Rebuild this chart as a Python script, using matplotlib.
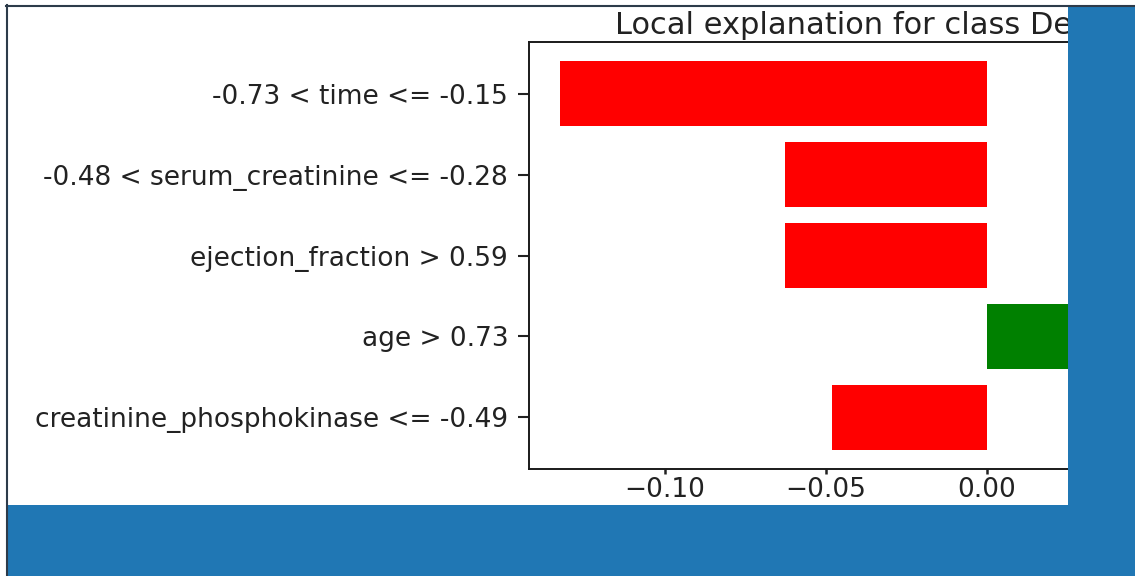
import matplotlib
matplotlib.use("Agg")
import matplotlib.pyplot as plt
from matplotlib.patches import Rectangle
from matplotlib.lines import Line2D

# Feature conditions, listed from most to least important (top to bottom)
features = [
    "-0.73 < time <= -0.15",
    "-0.48 < serum_creatinine <= -0.28",
    "ejection_fraction > 0.59",
    "age > 0.73",
    "creatinine_phosphokinase <= -0.49",
]
weights = [-0.1326, -0.0627, -0.0627, 0.0590, -0.0481]
xticks = [-0.10, -0.05, 0.00]
xtick_labels = ["\u22120.10", "\u22120.05", "0.00"]
title = "Local explanation for class Death"

W, H = 1135, 576
fig = plt.figure(figsize=(W / 100, H / 100), dpi=100, facecolor="white")

def px_rect(x0, y0, x1, y1, **kw):
    """Rectangle given in pixel coordinates measured from the top-left corner."""
    return Rectangle((x0 / W, 1 - y1 / H), (x1 - x0) / W, (y1 - y0) / H,
                     transform=fig.transFigure, **kw)

blue = "#2077b4"
fig.patches.append(px_rect(6, 5, W + 2, H + 2, facecolor=blue, edgecolor="none", zorder=0.1))
fig.patches.append(px_rect(7, 7, 1068, 505, facecolor="white", edgecolor="none", zorder=0.2))

# Axes placement (pixels)
left_px, right_px, top_px, bottom_px = 529, 1208, 42, 469
ax = fig.add_axes([left_px / W, 1 - bottom_px / H,
                   (right_px - left_px) / W, (bottom_px - top_px) / H])
ax.set_zorder(1)
ax.set_facecolor("white")

vals = weights[::-1]
names = features[::-1]
pos = list(range(len(vals)))
colors = ["green" if v > 0 else "red" for v in vals]
ax.barh(pos, vals, align="center", color=colors, height=0.8)
ax.set_yticks(pos)
ax.set_yticklabels(names)
ax.set_xticks(xticks)
ax.set_xticklabels(xtick_labels)
ax.set_title(title, fontsize=22, color="#222222", pad=6)

ax.tick_params(axis="y", labelsize=19, length=8, width=1.5, pad=7, colors="#222222")
ax.tick_params(axis="x", labelsize=19, length=3.6, width=1.8, pad=2, colors="#222222")
for s in ax.spines.values():
    s.set_linewidth(1.4)
    s.set_color("#1a1a1a")

# Frame cover on the right and bottom
fig.patches.append(px_rect(1068, 5, W + 2, H + 2, facecolor=blue, edgecolor="none", zorder=5))
fig.patches.append(px_rect(6, 505, W + 2, H + 2, facecolor=blue, edgecolor="none", zorder=5))

# Dark edge along the top and left of the frame
edge = "#2d3b4a"
fig.lines.append(Line2D([6 / W, 1], [1 - 5.5 / H, 1 - 5.5 / H], transform=fig.transFigure,
                        color=edge, linewidth=1.5, zorder=6))
fig.lines.append(Line2D([6.5 / W, 6.5 / W], [0, 1 - 5 / H], transform=fig.transFigure,
                        color=edge, linewidth=1.5, zorder=6))

fig.savefig("out.png", dpi=100, facecolor="white")
